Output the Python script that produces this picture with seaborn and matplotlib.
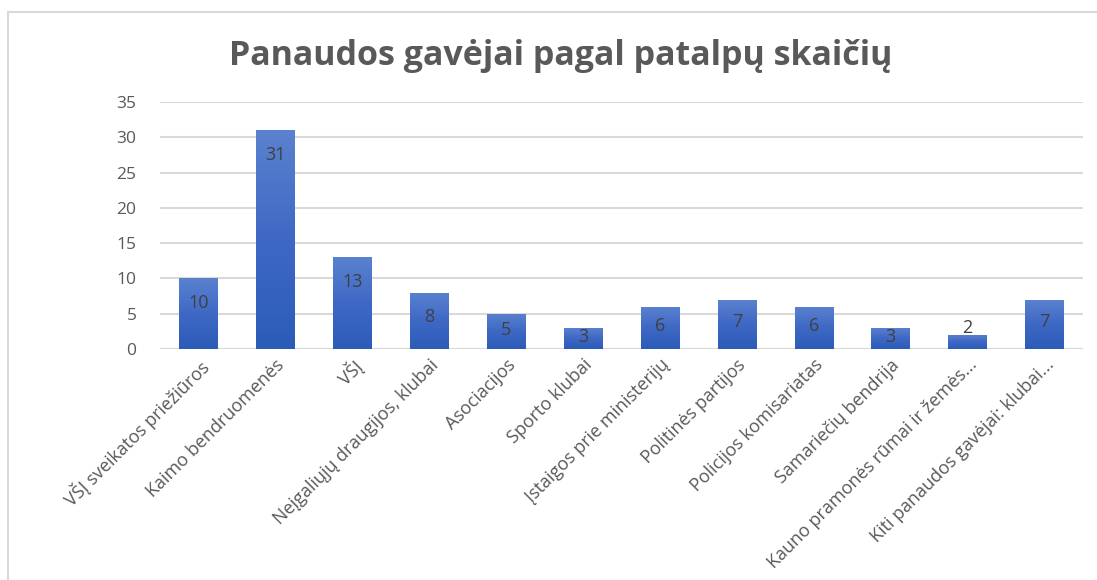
import matplotlib
matplotlib.use("Agg")
import matplotlib.pyplot as plt
import numpy as np
import pandas as pd
import seaborn as sns
from matplotlib.patches import Rectangle


TITLE = "Panaudos gavėjai pagal patalpų skaičių"
categories = [
    "VŠĮ sveikatos priežiūros",
    "Kaimo bendruomenės",
    "VŠĮ",
    "Neįgaliųjų draugijos, klubai",
    "Asociacijos",
    "Sporto klubai",
    "Įstaigos prie ministerijų",
    "Politinės partijos",
    "Policijos komisariatas",
    "Samariečių bendrija",
    "Kauno pramonės rūmai ir žemės...",
    "Kiti panaudos gavėjai: klubai...",
]
values = [10, 31, 13, 8, 5, 3, 6, 7, 6, 3, 2, 7]
y_ticks = [0, 5, 10, 15, 20, 25, 30, 35]

GREY_TXT = "#595959"
GRID = "#d9d9d9"

sns.set_theme(style="white")
plt.rcParams["font.family"] = ["Open Sans", "DejaVu Sans"]

df = pd.DataFrame({"cat": categories, "val": values})

fig = plt.figure(figsize=(10.97, 5.80), dpi=100)
ax = fig.add_axes([160 / 1097, 1 - 349 / 580, (1083 - 160) / 1097, (349 - 102) / 580])

sns.barplot(data=df, x="cat", y="val", color="#4472C4", width=0.5, saturation=1, ax=ax, zorder=3)

# vertical gradient on each bar, like the Excel fill
grad = np.linspace(0, 1, 256).reshape(-1, 1)
cmap = matplotlib.colors.LinearSegmentedColormap.from_list(
    "xlblue", ["#2B5CB8", "#3F68C5", "#5A82CF"])
for p in ax.patches:
    x0, y0 = p.get_x(), p.get_y()
    w, h = p.get_width(), p.get_height()
    p.set_facecolor("none")
    p.set_edgecolor("none")
    im = ax.imshow(grad, extent=[x0, x0 + w, y0, y0 + h], origin="lower", cmap=cmap,
                   aspect="auto", zorder=3)
    im.set_clip_path(p)

ax.set_xlim(-0.5, len(categories) - 0.5)
ax.set_ylim(0, 35)
ax.set_yticks(y_ticks)
ax.yaxis.grid(True, color=GRID, linewidth=1.5, zorder=0)
ax.set_axisbelow(True)
for s in ["top", "right", "left", "bottom"]:
    ax.spines[s].set_visible(False)
ax.axhline(0, color=GRID, linewidth=1.5, zorder=1)

ax.set_xlabel("")
ax.set_ylabel("")
ax.tick_params(axis="y", length=0, pad=17, labelsize=12.5, labelcolor=GREY_TXT)
ax.tick_params(axis="x", length=0, pad=5, labelsize=13, labelcolor=GREY_TXT)
ax.set_xticks(range(len(categories)))
ax.set_xticklabels(categories, rotation=45, ha="right", rotation_mode="anchor")

for i, v in enumerate(values):
    if v >= 3:
        ly = v - min(3.5, v * 0.45)
    else:
        ly = v + 1.0
    ax.text(i, ly, str(v), ha="center", va="center", fontsize=13, color="#404040", zorder=5)

fig.text((219 + 903) / 2 / 1097, 1 - 56 / 580, TITLE, ha="center", va="center",
         fontsize=24.5, fontweight="bold", color=GREY_TXT)

fig.patches.append(Rectangle((8 / 1097, -0.1), 1.2, 1.1 - 12 / 580, transform=fig.transFigure,
                             fill=False, edgecolor=GRID, linewidth=1.5))

fig.savefig("out.png", dpi=100, facecolor="white")
